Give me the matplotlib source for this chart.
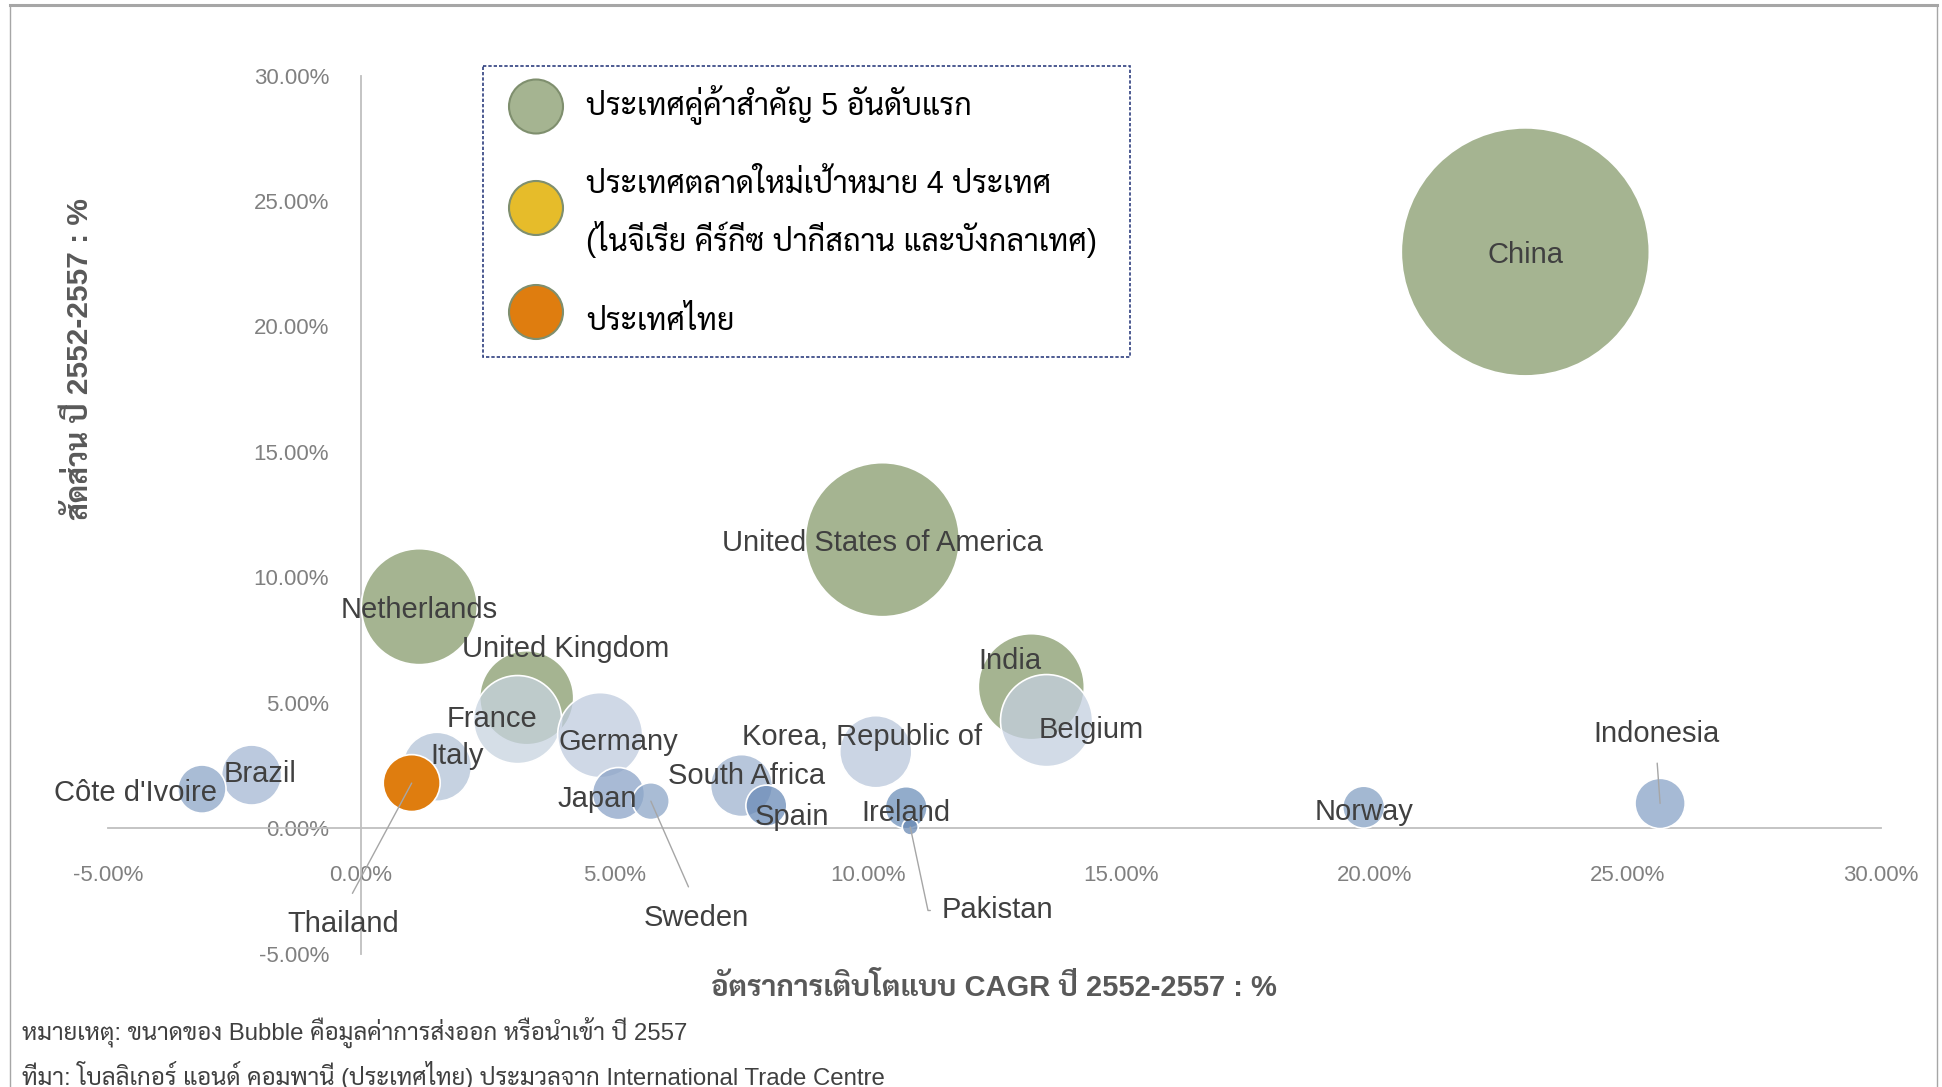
import numpy as np
import matplotlib
matplotlib.use("Agg")
import matplotlib.pyplot as plt
from matplotlib.ticker import FuncFormatter
from matplotlib.patches import Circle, Rectangle

# ---- data ----
countries = ["China", "United States of America", "Netherlands", "India", "United Kingdom",
             "Belgium", "France", "Germany", "Korea, Republic of", "Italy", "South Africa",
             "Brazil", "Thailand", "Japan", "Indonesia", "Côte d'Ivoire", "Ireland", "Norway",
             "Spain", "Sweden", "Pakistan"]
cagr = [22.98, 10.29, 1.15, 13.23, 3.27, 13.53, 3.09, 4.72, 10.16, 1.50, 7.51,
        -2.16, 1.00, 5.08, 25.64, -3.14, 10.76, 19.79, 8.00, 5.72, 10.84]          # x, %
share = [22.97, 11.50, 8.83, 5.64, 5.20, 4.29, 4.33, 3.71, 3.05, 2.45, 1.70,
         2.12, 1.80, 1.38, 0.99, 1.56, 0.82, 0.84, 0.90, 1.08, 0.05]           # y, %
bubble_size = [153.8, 59.3, 33.6, 28.1, 22.1, 21.2, 19.4, 18.1, 13.0, 11.9, 9.6,
               9.0, 8.1, 6.8, 6.3, 5.8, 4.4, 4.4, 4.2, 3.4, 0.64]             # relative export value 2557
group = ["top5", "top5", "top5", "top5", "top5", "other", "other", "other", "other", "other", "other",
         "other", "thai", "other", "other", "other", "other", "other", "other", "other", "other"]

ticks = [-5, 0, 5, 10, 15, 20, 25, 30]

legend_labels = ["ประเทศคู่ค้าสำคัญ 5 อันดับแรก",
                 "ประเทศตลาดใหม่เป้าหมาย 4 ประเทศ",
                 "(ไนจีเรีย คีร์กีซ ปากีสถาน และบังกลาเทศ)",
                 "ประเทศไทย"]
x_title = "อัตราการเติบโตแบบ CAGR ปี 2552-2557 : %"
y_title = "สัดส่วน ปี 2552-2557 : %"
note_1 = "หมายเหตุ: ขนาดของ Bubble คือมูลค่าการส่งออก หรือนำเข้า ปี 2557"
note_2 = "ที่มา: โบลลิเกอร์ แอนด์ คอมพานี (ประเทศไทย) ประมวลจาก International Trade Centre"

# ---- styles ----
GREEN = "#A5B491"
ORANGE = "#DF7D0F"
YELLOW = "#E6BC2A"
blue_shades = {"Belgium": "#C4CFE0", "France": "#C7D3E0", "Germany": "#BFCBDE",
               "Korea, Republic of": "#BAC7DB", "Italy": "#B4C3D8", "South Africa": "#9FB4D0",
               "Brazil": "#A4B7D3", "Japan": "#8BA3C7", "Indonesia": "#88A3C7",
               "Côte d'Ivoire": "#8CA6C8", "Ireland": "#6E90BA", "Norway": "#84A0C4",
               "Spain": "#6A8BB7", "Sweden": "#8CA6C8", "Pakistan": "#6888B3"}

# label offsets from bubble centre in pixels (right, down)
label_offsets = {"China": (0, 0), "United States of America": (0, 0), "Netherlands": (0, 0),
                 "India": (-21, -29), "United Kingdom": (39, -52), "Belgium": (45, 6),
                 "France": (-26, -4), "Germany": (18, 3), "Korea, Republic of": (-14, -18),
                 "Italy": (20, -14), "South Africa": (5, -13), "Brazil": (8, -5),
                 "Thailand": (-68, 137), "Japan": (-21, 2), "Indonesia": (-4, -73),
                 "Côte d'Ivoire": (-66, 0), "Ireland": (0, 2), "Norway": (0, 1),
                 "Spain": (26, 8), "Sweden": (45, 113), "Pakistan": (87, 80)}

W, H, DPI = 1942, 1087, 100
PX = 72.0 / DPI                      # points per pixel
SIZE_SCALE = (20 * PX) ** 2          # bubble_size -> scatter area (pt^2)

THAI = ["Liberation Sans", "Sarabun", "Noto Sans Thai", "DejaVu Sans"]
plt.rcParams["font.family"] = ["Liberation Sans", "DejaVu Sans"]

fig = plt.figure(figsize=(W / DPI, H / DPI), dpi=DPI)
ax = fig.add_axes([107.7 / W, 1 - 953.7 / H, (1881 - 107.7) / W, (953.7 - 75.5) / H])
ax.set_xlim(-5, 30)
ax.set_ylim(-5, 30)
ax.set_facecolor("none")

for side in ["top", "right"]:
    ax.spines[side].set_visible(False)
ax.spines["left"].set_position(("data", 0))
ax.spines["bottom"].set_position(("data", 0))
for side in ["left", "bottom"]:
    ax.spines[side].set_color("#BFBFBF")
    ax.spines[side].set_linewidth(1.3)

ax.set_xticks(ticks)
ax.set_yticks(ticks)
fmt = FuncFormatter(lambda v, _: f"{v:.2f}%")
ax.xaxis.set_major_formatter(fmt)
ax.yaxis.set_major_formatter(fmt)
ax.tick_params(length=0, labelsize=16, labelcolor="#808080")
ax.tick_params(axis="x", pad=26.5)
ax.tick_params(axis="y", pad=23)

# bubbles, larger ones first
colors = []
for c, g in zip(countries, group):
    if g == "top5":
        colors.append(matplotlib.colors.to_rgba(GREEN, 1.0))
    elif g == "thai":
        colors.append(matplotlib.colors.to_rgba(ORANGE, 1.0))
    else:
        colors.append(matplotlib.colors.to_rgba(blue_shades[c], 0.75))
order = np.argsort(bubble_size)[::-1]
ax.scatter(np.array(cagr)[order], np.array(share)[order],
           s=np.array(bubble_size)[order] * SIZE_SCALE,
           c=[colors[i] for i in order], edgecolors="white", linewidths=1.2, zorder=3)

leader = {"Thailand": dict(relpos=(0.5, 1.0), shrinkA=11),
          "Sweden": dict(relpos=(0.5, 1.0), shrinkA=11),
          "Indonesia": dict(relpos=(0.5, 0.0), shrinkA=9),
          "Pakistan": dict(relpos=(0.0, 0.5), shrinkA=6,
                           connectionstyle="angle,angleA=0,angleB=-78,rad=0")}

for name, x, y in zip(countries, cagr, share):
    dx, dy = label_offsets[name]
    dy += 3.5
    kw = {}
    if name in leader:
        ap = dict(arrowstyle="-", color="#A6A6A6", lw=1.0, shrinkB=0)
        ap.update(leader[name])
        kw["arrowprops"] = ap
    ax.annotate(name, (x, y), xytext=(dx * PX, -dy * PX), textcoords="offset points",
                ha="center", va="center", fontsize=21, color="#404040", zorder=5, **kw)

# ---- overlay in pixel coordinates for frame, legend, titles and notes ----
ov = fig.add_axes([0, 0, 1, 1], zorder=10)
ov.set_xlim(0, W)
ov.set_ylim(H, 0)
ov.axis("off")

ov.plot([10, 1937], [5, 5], color="#A6A6A6", lw=2.2)
ov.plot([10, 10], [5, H], color="#A6A6A6", lw=1.0)
ov.plot([1937, 1937], [5, H], color="#A6A6A6", lw=1.0)

ov.add_patch(Rectangle((483, 66), 647, 291, fill=False, edgecolor="#2F3F7F",
                       lw=1.2, linestyle=(0, (2, 1.2))))
for yc, col in zip([106.5, 208, 312], [GREEN, YELLOW, ORANGE]):
    ov.add_patch(Circle((536, yc), 27, facecolor=col, edgecolor="#7F8F6E", lw=1.5))
for text, yt in zip(legend_labels, [105, 185, 240, 322]):
    ov.text(586, yt, text, family=THAI, fontsize=22, color="#000000", va="center")

ov.text(994, 987, x_title, family=THAI, fontsize=21, fontweight="bold", color="#595959",
        ha="center", va="center")
ov.text(79, 359, y_title, family=THAI, fontsize=21.5, fontweight="bold", color="#595959",
        ha="center", va="center", rotation=90)

ov.text(22, 1032, note_1, family=THAI, fontsize=17.3, color="#404040", va="center")
ov.text(22, 1075, note_2, family=THAI, fontsize=17.3, color="#404040", va="center")

fig.savefig("out.png", dpi=DPI)
